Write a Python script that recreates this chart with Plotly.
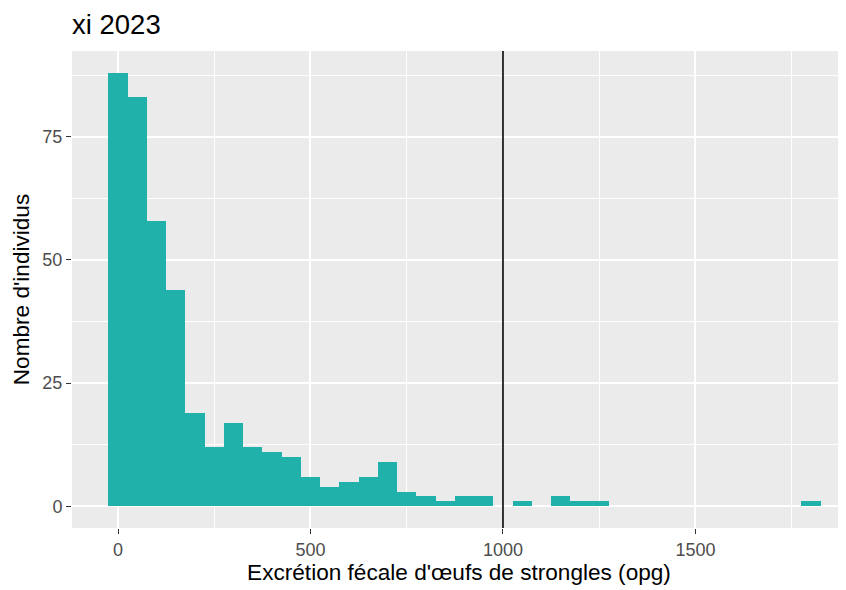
import plotly.graph_objects as go

# Histogram (binwidth 50), bin centers and counts
bin_centers = [0, 50, 100, 150, 200, 250, 300, 350, 400, 450, 500, 550, 600, 650,
               700, 750, 800, 850, 900, 950, 1050, 1150, 1200, 1250, 1800]
counts = [88, 83, 58, 44, 19, 12, 17, 12, 11, 10, 6, 4, 5, 6,
          9, 3, 2, 1, 2, 2, 1, 2, 1, 1, 1]
bin_width = 50
threshold = 1000

x_ticks = [0, 500, 1000, 1500]
y_ticks = [0, 25, 50, 75]

title_text = "xi 2023"
x_title = "Excrétion fécale d'œufs de strongles (opg)"
y_title = "Nombre d'individus"

FONT = "Arial, 'Liberation Sans', sans-serif"

# the page body adds an 8px offset; the figure fills the remaining window
W, H = 838, 582

fig = go.Figure()
fig.add_trace(go.Bar(
    x=bin_centers, y=counts, width=[bin_width] * len(bin_centers),
    marker=dict(color="#20B2AA", line=dict(width=0)),
    hoverinfo="x+y", showlegend=False,
))

fig.add_shape(type="line", xref="x", yref="paper", x0=threshold, x1=threshold,
              y0=0, y1=1, line=dict(color="black", width=1.6), layer="above")

fig.update_layout(
    width=W, height=H,
    margin=dict(l=64, r=0, t=43, b=62),
    paper_bgcolor="white",
    plot_bgcolor="#EBEBEB",
    bargap=0,
    font=dict(family=FONT, color="black"),
    title=dict(text=title_text, x=64 / W, xanchor="left", y=1 - 16 / H, yanchor="middle",
               font=dict(size=27.5, color="black", family=FONT)),
)

fig.update_xaxes(
    range=[-119.5, 1891],
    tickmode="array", tickvals=x_ticks, ticktext=[str(v) for v in x_ticks],
    ticks="outside", ticklen=5, tickwidth=1.3, tickcolor="#333333",
    tickfont=dict(size=18, color="#4D4D4D", family=FONT),
    showgrid=True, gridcolor="white", gridwidth=2,
    minor=dict(tickvals=[250, 750, 1250, 1750], showgrid=True, gridcolor="white", gridwidth=1, ticks=""),
    zeroline=False, showline=False,
    title=dict(text=x_title, font=dict(size=22.6, color="black", family=FONT), standoff=3),
)
fig.update_yaxes(
    range=[-4.4, 92.4],
    tickmode="array", tickvals=y_ticks, ticktext=[str(v) for v in y_ticks],
    ticks="outside", ticklen=5, tickwidth=1.3, tickcolor="#333333",
    tickfont=dict(size=18, color="#4D4D4D", family=FONT),
    showgrid=True, gridcolor="white", gridwidth=2,
    minor=dict(tickvals=[12.5, 37.5, 62.5, 87.5], showgrid=True, gridcolor="white", gridwidth=1, ticks=""),
    zeroline=False, showline=False,
    title=dict(text=y_title, font=dict(size=22.6, color="black", family=FONT), standoff=6),
)

fig.write_html("out.html")
